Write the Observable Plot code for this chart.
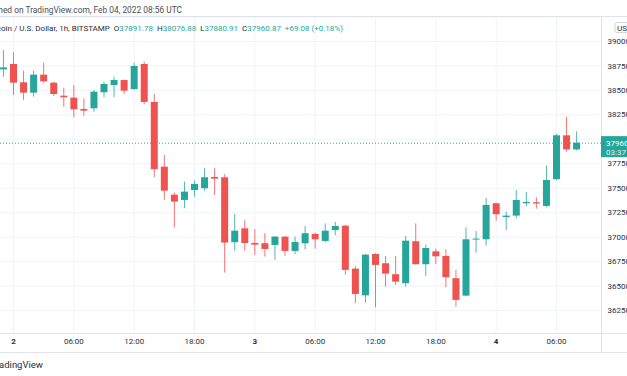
<!DOCTYPE html>
<html><head><meta charset="utf-8">
<script src="https://cdn.jsdelivr.net/npm/d3@7"></script>
<script src="https://cdn.jsdelivr.net/npm/@observablehq/plot@0.6"></script>
<style>
html,body{margin:0;padding:0;background:#fff;overflow:hidden;width:627px;height:376px;}
#chart{position:absolute;left:0;top:0;}
svg{display:block;}
</style></head><body><div id="chart"></div>
<script>
// Hourly BTC/USD candles, Bitstamp, from 2022-02-01 23:00 UTC to 2022-02-04 08:00 UTC
const firstBar = "2022-02-01T23:00:00Z";
const opens  = [38710,38765,38578,38472,38656,38574,38441,38421,38305,38312,38476,38550,38601,38509,38765,38377,37715,37429,37375,37477,37495,37610,37607,36943,37085,36936,36933,36915,37000,36854,36932,37028,36956,37068,37112,36673,36400,36823,36728,36616,36524,36953,36718,36850,36803,36575,36397,36970,36973,37341,37201,37215,37341,37351,37314,37587,38036,37891.78];
const highs  = [38910,38885,38696,38696,38778,38584,38523,38550,38414,38499,38584,38635,38605,38778,38788,38458,37835,37450,37562,37572,37699,37699,37638,37232,37171,37076,37035,37007,37007,37000,37109,37041,37136,37150,37119,36700,36823,36830,36803,36803,37007,37136,36918,36877,36871,36660,37096,37058,37396,37345,37256,37477,37457,37403,37726,38050,38226,38076.88];
const lows   = [38635,38448,38397,38431,38574,38438,38329,38220,38236,38277,38425,38425,38458,38499,38353,37607,37375,37096,37290,37409,37470,37426,36632,36857,36857,36813,36796,36762,36803,36820,36871,36878,36943,37014,36612,36319,36326,36278,36489,36506,36489,36714,36598,36721,36483,36285,36390,36836,36908,37164,37068,37188,37314,37286,37300,37579,37869,37880.91];
const closes = [38730,38574,38472,38656,38588,38458,38425,38302,38288,38482,38561,38601,38492,38745,38377,37689,37470,37358,37460,37539,37607,37593,36939,37061,36935,36918,36874,37000,36854,36946,37035,36973,37061,37109,36660,36414,36816,36711,36622,36540,36959,36718,36884,36799,36585,36353,36973,36980,37324,37229,37215,37375,37355,37338,37579,38036,37891.78,37960.87];

const yTicks = [39250,39000,38750,38500,38250,38000,37750,37500,37250,37000,36750,36500,36250,36000];
const yTickLabels = ["39000","38750","38500","38250","37750","37500","37250","37000","36750","36500","36250"];
const xTickTimes = ["2022-02-02T00:00Z","2022-02-02T06:00Z","2022-02-02T12:00Z","2022-02-02T18:00Z","2022-02-03T00:00Z","2022-02-03T06:00Z","2022-02-03T12:00Z","2022-02-03T18:00Z","2022-02-04T00:00Z","2022-02-04T06:00Z"];
const xTickLabels = ["2","06:00","12:00","18:00","3","06:00","12:00","18:00","4","06:00"];

const headerText = "Published on TradingView.com, Feb 04, 2022 08:56 UTC";
const symbolText = "Bitcoin / U.S. Dollar, 1h, BITSTAMP";
const lastOHLC = {O: "37891.78", H: "38076.88", L: "37880.91", C: "37960.87"};
const changeText = "+69.08 (+0.18%)";
const countdown = "03:37";
const footerText = "TradingView";
const currencyText = "USD";

const UP = "#26a69a", DOWN = "#ef5350", GRID = "#f0f3fa", LINE = "#e0e3eb", TXT = "#2a2e39";
const FONT = "Roboto, 'Liberation Sans', sans-serif";

const start = new Date(firstBar);
const candles = opens.map((o, i) => ({
  date: d3.utcHour.offset(start, i),
  o, h: highs[i], l: lows[i], c: closes[i],
  up: closes[i] >= o
}));
const xTicks = xTickTimes.map((t, i) => ({date: new Date(t), label: xTickLabels[i], day: !xTickLabels[i].includes(":")}));
const yLabels = yTickLabels.map(s => ({v: +s, label: s}));
const lastClose = closes[closes.length - 1];

const W = 627, H = 376;
const plot = Plot.plot({
  width: W, height: H,
  marginLeft: 0, marginRight: 26, marginTop: 17, marginBottom: 43,
  x: {type: "utc", domain: [new Date(xTickTimes[0]), new Date(xTickTimes[xTickTimes.length - 1])], range: [13, 556], axis: null},
  y: {domain: [36250, 39000], range: [310, 41], axis: null},
  style: {fontFamily: FONT, fontSize: "8px", background: "#fff", color: TXT},
  marks: [
    Plot.ruleY(yTicks, {stroke: GRID, strokeWidth: 1, clip: true}),
    Plot.ruleX(xTicks, {x: "date", stroke: GRID, strokeWidth: 1}),
    Plot.ruleY([lastClose], {stroke: UP, strokeDasharray: "1,2", strokeWidth: 1}),
    Plot.ruleX(candles, {x: "date", y1: "l", y2: "h", stroke: d => d.up ? UP : DOWN, strokeWidth: 1, strokeOpacity: 0.8, clip: true}),
    Plot.ruleX(candles, {x: "date", y1: "o", y2: "c", stroke: d => d.up ? UP : DOWN, strokeWidth: 7, clip: true}),
    Plot.text(xTicks.filter(d => !d.day), {x: "date", text: "label", frameAnchor: "bottom", dy: 10, fill: TXT, fontSize: 8}),
    Plot.text(xTicks.filter(d => d.day), {x: "date", text: "label", frameAnchor: "bottom", dy: 10, fill: TXT, fontSize: 8, fontWeight: "bold"}),
    Plot.text(yLabels, {y: "v", text: "label", frameAnchor: "right", dx: 6, textAnchor: "start", fill: TXT, fontSize: 8})
  ]
});
document.getElementById("chart").appendChild(plot);

const svg = d3.select(plot);
const yS = plot.scale("y");
// panel borders
const g = svg.append("g");
g.append("line").attr("x1", 0).attr("x2", W).attr("y1", 16.5).attr("y2", 16.5).attr("stroke", LINE);
g.append("line").attr("x1", 0).attr("x2", W).attr("y1", 333.5).attr("y2", 333.5).attr("stroke", LINE);
g.append("line").attr("x1", 0).attr("x2", W).attr("y1", 352.5).attr("y2", 352.5).attr("stroke", LINE);
g.append("line").attr("x1", 601.5).attr("x2", 601.5).attr("y1", 17).attr("y2", 352).attr("stroke", LINE);

// header
svg.append("text").attr("x", 182).attr("y", 13).attr("text-anchor", "end")
  .attr("font-size", 8.4).attr("fill", "#4a4e59").attr("font-family", FONT).text(headerText);

// legend
const leg = svg.append("text").attr("x", 343).attr("y", 31).attr("text-anchor", "end")
  .attr("font-size", 8).attr("font-family", FONT).attr("fill", TXT);
leg.append("tspan").text(symbolText + "  ");
for (const k of ["O", "H", "L", "C"]) {
  leg.append("tspan").attr("fill", TXT).text(k);
  leg.append("tspan").attr("fill", UP).text(lastOHLC[k] + "  ");
}
leg.append("tspan").attr("fill", UP).text(changeText);

// currency box
svg.append("rect").attr("x", 615).attr("y", 22.5).attr("width", 24).attr("height", 10).attr("rx", 2)
  .attr("fill", "#fff").attr("stroke", "#d1d4dc");
svg.append("text").attr("x", 617).attr("y", 30.5).attr("text-anchor", "start")
  .attr("font-size", 8).attr("font-family", FONT).attr("fill", TXT).text(currencyText);

// last price label
const py = yS.apply(lastClose);
svg.append("rect").attr("x", 601).attr("y", py - 6.5).attr("width", 30).attr("height", 21).attr("fill", UP);
svg.append("text").attr("x", 606).attr("y", py + 3.5).attr("text-anchor", "start")
  .attr("font-size", 8).attr("font-family", FONT).attr("fill", "#fff").text(Math.floor(lastClose));
svg.append("text").attr("x", 606).attr("y", py + 12.8).attr("text-anchor", "start")
  .attr("font-size", 8).attr("font-family", FONT).attr("fill", "#fff").attr("fill-opacity", 0.85).text(countdown);

// footer
svg.append("text").attr("x", 43).attr("y", 368).attr("text-anchor", "end")
  .attr("font-size", 9.5).attr("font-family", FONT).attr("fill", TXT).text(footerText);
</script></body></html>
